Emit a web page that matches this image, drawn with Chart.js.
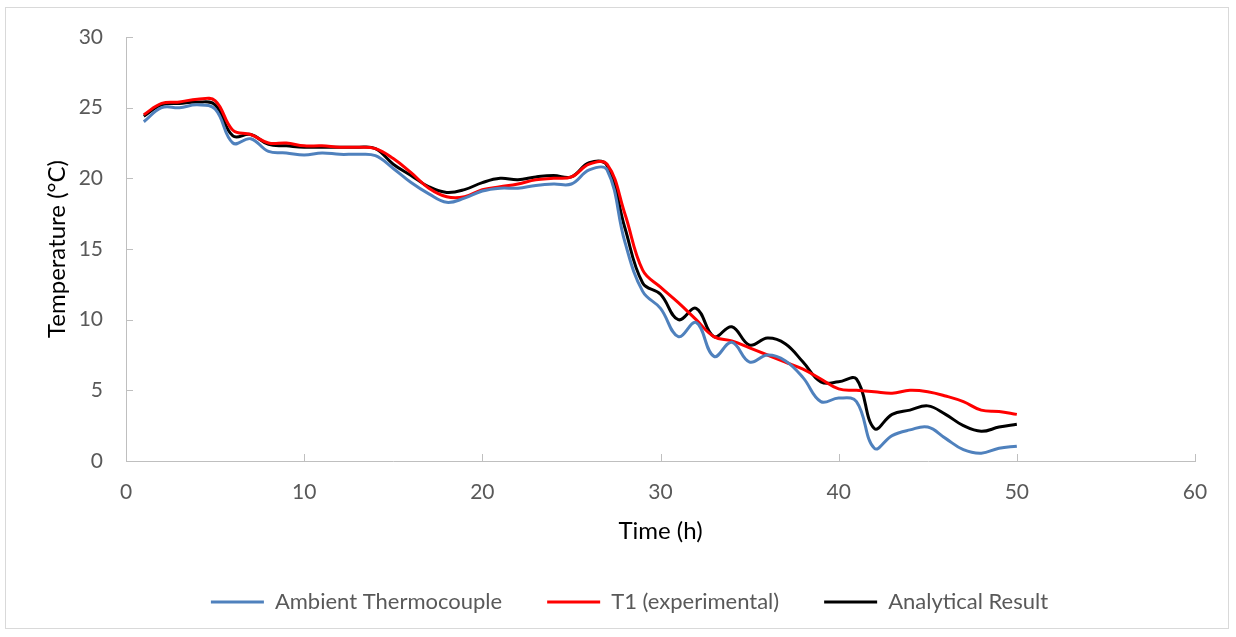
<!DOCTYPE html>
<html>
<head>
<meta charset="utf-8">
<script src="https://cdn.jsdelivr.net/npm/chart.js@4.4.0/dist/chart.umd.min.js"></script>
<style>
  html, body { margin: 0; padding: 0; background: #fff; }
  #wrap { width: 1236px; height: 637px; }
</style>
</head>
<body>
<div id="wrap"><canvas id="grafico"></canvas></div>
<script>
// horas (1..50)
const horas = [1,2,3,4,5,6,7,8,9,10,11,12,13,14,15,16,17,18,19,20,21,22,23,24,25,26,27,28,29,30,31,32,33,34,35,36,37,38,39,40,41,42,43,44,45,46,47,48,49,50];

const ambiente = [24.0,25.0,25.0,25.2,24.9,22.5,22.8,21.9,21.8,21.65,21.8,21.7,21.7,21.6,20.7,19.7,18.9,18.3,18.6,19.1,19.3,19.3,19.5,19.6,19.6,20.6,20.6,15.5,12.0,10.8,8.8,9.8,7.4,8.4,7.0,7.5,7.1,5.9,4.2,4.45,4.2,0.9,1.8,2.2,2.4,1.6,0.8,0.55,0.9,1.05];
const t1 = [24.5,25.3,25.4,25.6,25.5,23.4,23.1,22.5,22.5,22.3,22.3,22.2,22.2,22.1,21.4,20.4,19.3,18.7,18.7,19.2,19.4,19.6,19.9,20.0,20.1,21.0,21.0,17.5,13.5,12.3,11.2,10.0,8.8,8.5,8.0,7.5,7.0,6.5,5.8,5.1,5.0,4.9,4.8,5.0,4.9,4.6,4.2,3.6,3.5,3.3];
const analitico = [24.4,25.2,25.3,25.4,25.2,23.0,23.1,22.4,22.3,22.2,22.2,22.2,22.2,22.1,21.0,20.2,19.4,19.0,19.2,19.7,20.0,19.9,20.1,20.2,20.1,21.1,20.9,16.5,12.6,11.8,10.0,10.8,8.8,9.5,8.2,8.7,8.3,7.0,5.6,5.6,5.8,2.3,3.3,3.6,3.9,3.3,2.5,2.1,2.4,2.6];

const nomes = ['Ambient Thermocouple', 'T1 (experimental)', 'Analytical Result'];
const cores = ['#4f81bd', '#ff0000', '#000000'];

function pontos(valores) {
    return horas.map(function (h, i) { return { x: h, y: valores[i] }; });
}

const fonte = 'Lato, "Open Sans", sans-serif';
const cinza = '#595959';
const corEixo = '#bfbfbf';

// moldura cinza em volta do grafico
const moldura = {
    id: 'moldura',
    beforeDraw(chart) {
        const ctx = chart.ctx;
        ctx.save();
        ctx.fillStyle = '#ffffff';
        ctx.fillRect(0, 0, chart.width, chart.height);
        ctx.strokeStyle = '#d9d9d9';
        ctx.lineWidth = 1;
        ctx.strokeRect(5.5, 7.5, 1223, 621);
        ctx.restore();
    },
    afterLayout(chart) {
        // legenda um pouco para a direita, como no original
        chart.legend.left += 32;
        chart.legend.right += 32;
    }
};

// marcas de escala para dentro (estilo Excel)
const marcasDentro = {
    id: 'marcasDentro',
    afterDraw(chart) {
        const ctx = chart.ctx;
        const x = chart.scales.x, y = chart.scales.y;
        ctx.save();
        ctx.strokeStyle = corEixo;
        ctx.lineWidth = 1;
        ctx.beginPath();
        x.ticks.forEach(function (t) {
            const px = Math.round(x.getPixelForValue(t.value)) + 0.5;
            ctx.moveTo(px, y.bottom);
            ctx.lineTo(px, y.bottom - 7);
        });
        y.ticks.forEach(function (t) {
            const py = Math.round(y.getPixelForValue(t.value)) + 0.5;
            ctx.moveTo(x.left, py);
            ctx.lineTo(x.left + 7, py);
        });
        ctx.stroke();
        ctx.restore();
    }
};

const dados = {
    datasets: [ambiente, t1, analitico].map(function (serie, i) {
        return {
            label: nomes[i],
            data: pontos(serie),
            borderColor: cores[i],
            backgroundColor: cores[i],
            borderWidth: 3,
            pointRadius: 0,
            showLine: true,
            fill: false,
            tension: 0.4
        };
    })
};

const config = {
    type: 'scatter',
    data: dados,
    options: {
        responsive: true,
        maintainAspectRatio: false,
        animation: false,
        layout: { padding: { top: 37, right: 41, left: 0, bottom: 14 } },
        plugins: {
            legend: {
                position: 'bottom',
                labels: {
                    boxWidth: 53,
                    boxHeight: 3,
                    padding: 45,
                    color: cinza,
                    font: { family: fonte, size: 22 },
                    generateLabels(chart) {
                        return Chart.defaults.plugins.legend.labels.generateLabels(chart).map(function (l) {
                            l.lineWidth = 0;
                            return l;
                        });
                    }
                }
            },
            tooltip: { enabled: false }
        },
        scales: {
            x: {
                type: 'linear',
                min: 0,
                max: 60,
                afterFit(scale) { scale.height = 85; },
                ticks: { stepSize: 10, color: cinza, font: { family: fonte, size: 21 }, padding: 19 },
                grid: { display: false, drawTicks: false },
                border: { display: true, color: corEixo, width: 1 },
                title: { display: true, text: 'Time (h)', color: '#000', font: { family: fonte, size: 24 }, padding: { top: 0, bottom: 0 } }
            },
            y: {
                min: 0,
                max: 30,
                afterFit(scale) { scale.width = 126; },
                ticks: { stepSize: 5, color: cinza, font: { family: fonte, size: 21 }, padding: 23 },
                grid: { display: false, drawTicks: false },
                border: { display: true, color: corEixo, width: 1 },
                title: { display: true, text: 'Temperature (°C)', color: '#000', font: { family: fonte, size: 24 }, padding: { top: 43, bottom: 0 } }
            }
        }
    },
    plugins: [moldura, marcasDentro]
};

const grafico = new Chart(document.getElementById('grafico'), config);
</script>
</body>
</html>
